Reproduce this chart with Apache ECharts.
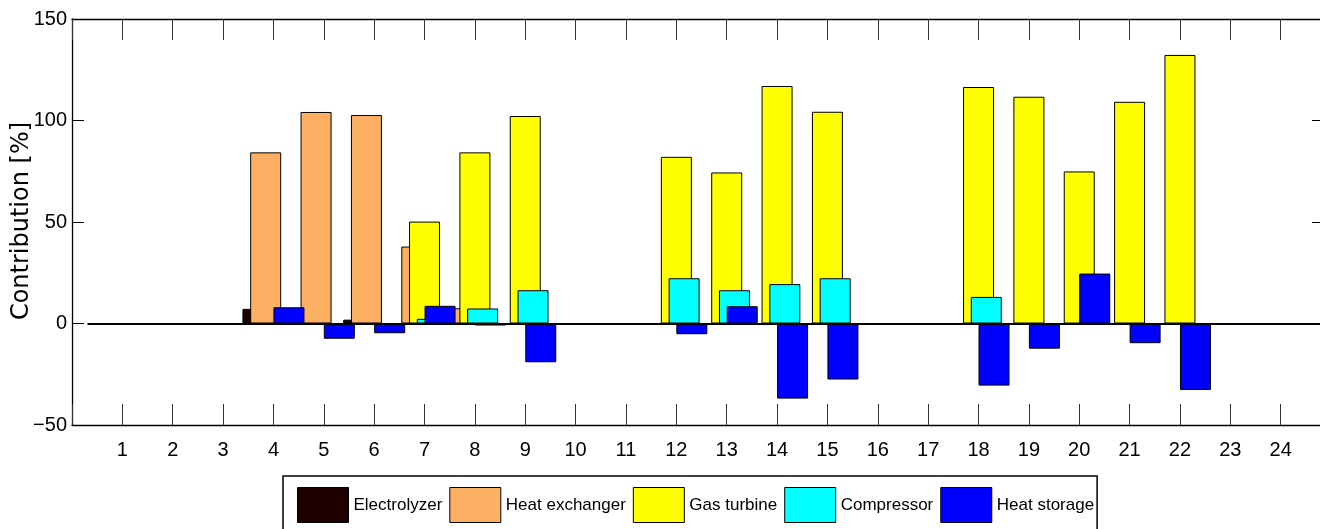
<!DOCTYPE html>
<html>
<head>
<meta charset="utf-8">
<script src="https://cdn.jsdelivr.net/npm/echarts@6/dist/echarts.min.js"></script>
<style>
  html, body { margin: 0; padding: 0; background: #fff; }
  #chart { width: 1320px; height: 529px; }
</style>
</head>
<body>
<div id="chart"></div>
<script>
// hours 1..24
const categories = [1, 2, 3, 4, 5, 6, 7, 8, 9, 10, 11, 12, 13, 14, 15, 16, 17, 18, 19, 20, 21, 22, 23, 24]

const electrolyzer  = [0, 0, 0, 7.2, 0, 1.9, 0, 0, 0, 0, 0, 0, 0, 0, 0, 0, 0, 0, 0, 0, 0, 0, 0, 0]
const heatExchanger = [0, 0, 0, 84.3, 104.2, 102.7, 37.9, 7.5, 0, 0, 0, 0, 0, 0, 0, 0, 0, 0, 0, 0, 0, 0, 0, 0]
const gasTurbine    = [0, 0, 0, 0, 0, 0, 50.2, 84.3, 102.2, 0, 0, 82.1, 74.4, 117.0, 104.3, 0, 0, 116.5, 111.7, 74.9, 109.2, 132.3, 0, 0]
const compressor    = [0, 0, 0, 0, 0, 0, 2.3, 7.4, 16.4, 0, 0, 22.3, 16.4, 19.4, 22.3, 0, 0, 13.1, 0, 0, 0, 0, 0, 0]
const heatStorage   = [0, 0, 0, 8.0, -7.5, -4.8, 8.7, -1.0, -19.1, 0, 0, -5.3, 8.5, -37.0, -27.6, 0, 0, -30.6, -12.4, 24.6, -9.7, -32.7, 0, 0]

const seriesNames = ['Electrolyzer', 'Heat exchanger', 'Gas turbine', 'Compressor', 'Heat storage']
const seriesColors = ['#1f0000', '#fdb063', '#ffff00', '#00ffff', '#0000ff']

const font = "'Liberation Sans', Arial, sans-serif"

const chart = echarts.init(document.getElementById('chart'))

const allValues = [electrolyzer, heatExchanger, gasTurbine, compressor, heatStorage]

const series = allValues.map((vals, k) => {
  const s = {
    name: seriesNames[k],
    type: 'bar',
    data: categories.map((c, i) => [c, vals[i]]),
    barWidth: 31,
    barGap: '-75%',
    itemStyle: {
      color: seriesColors[k],
      borderColor: '#000',
      borderWidth: 1
    },
    emphasis: { disabled: true }
  }
  if (k === allValues.length - 1) {
    // baseline at zero
    s.markLine = {
      silent: true,
      symbol: 'none',
      label: { show: false },
      lineStyle: { color: '#000', width: 2, type: 'solid' },
      data: [[{ coord: [0, 0] }, { coord: [24.86, 0] }]]
    }
  }
  return s
})

const xAxisBase = {
  type: 'value',
  min: 0,
  max: 24.86,
  interval: 1,
  axisLine: { show: true, onZero: false, lineStyle: { color: '#000', width: 1.3 } },
  axisTick: { inside: true, length: 21, lineStyle: { color: '#333', width: 1 } },
  splitLine: { show: false }
}

const yAxisBase = {
  type: 'value',
  min: -50,
  max: 150,
  interval: 50,
  axisLine: { show: true, onZero: false, lineStyle: { color: '#000', width: 1.3 } },
  axisTick: { show: true, inside: true, length: 12, lineStyle: { color: '#000', width: 1 } },
  splitLine: { show: false }
}

const option = {
  animation: false,
  backgroundColor: '#fff',
  grid: { left: 72, top: 19, width: 1252, height: 406, outerBoundsMode: 'none', containLabel: false },
  xAxis: [
    Object.assign({}, xAxisBase, {
      position: 'bottom',
      axisLabel: {
        margin: 15,
        color: '#000',
        fontSize: 20,
        fontFamily: font,
        formatter: v => (v >= 1 && v <= 24 && Number.isInteger(v)) ? String(v) : ''
      }
    }),
    Object.assign({}, xAxisBase, {
      position: 'top',
      axisLabel: { show: false }
    })
  ],
  yAxis: [
    Object.assign({}, yAxisBase, {
      position: 'left',
      axisLabel: {
        margin: 5,
        color: '#000',
        fontSize: 20,
        fontFamily: font,
        formatter: v => v < 0 ? '\u2212' + Math.abs(v) : String(v)
      }
    }),
    Object.assign({}, yAxisBase, {
      position: 'right',
      axisLabel: { show: false }
    })
  ],
  legend: {
    left: 283,
    top: 476,
    padding: [11, 3, 11, 14],
    icon: 'rect',
    itemWidth: 51,
    itemHeight: 35,
    itemGap: 7,
    borderColor: '#000',
    borderWidth: 1.5,
    selectedMode: false,
    data: seriesNames,
    itemStyle: { borderColor: '#000', borderWidth: 1 },
    textStyle: { color: '#000', fontSize: 17, fontFamily: font }
  },
  graphic: [
    {
      type: 'text',
      x: 22,
      y: 221,
      rotation: Math.PI / 2,
      style: {
        text: 'Contribution [%]',
        fill: '#000',
        font: "24px 'DejaVu Sans', sans-serif",
        align: 'center',
        verticalAlign: 'middle'
      }
    }
  ],
  series: series
}

chart.setOption(option)
</script>
</body>
</html>
